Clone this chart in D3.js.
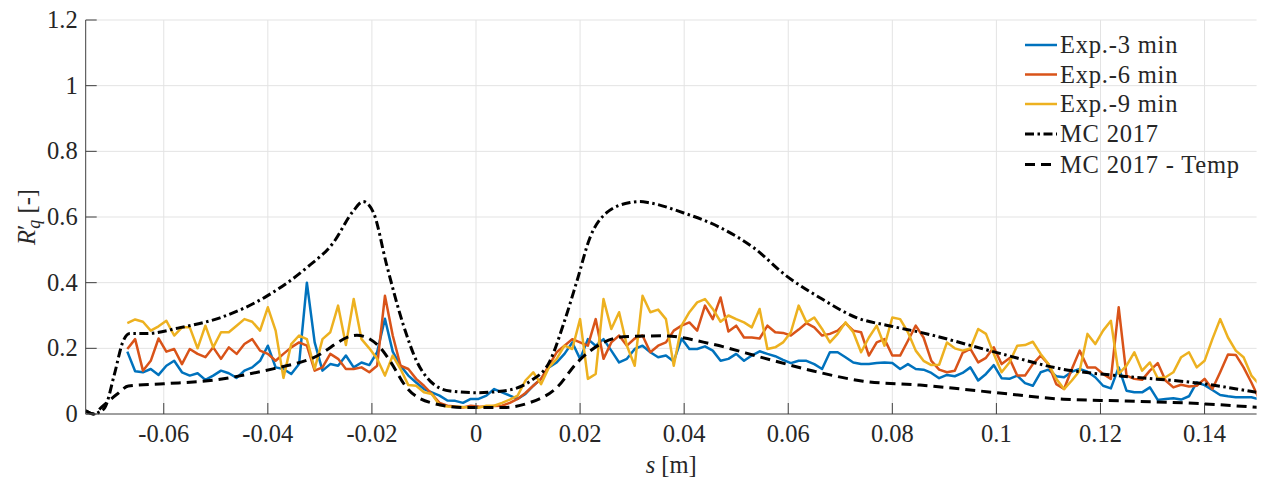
<!DOCTYPE html>
<html>
<head>
<meta charset="utf-8">
<script src="https://cdnjs.cloudflare.com/ajax/libs/d3/7.8.5/d3.min.js"></script>
<style>
    body { margin: 0; background: #fff; }
</style>
</head>
<body>
<script>
// sampling of the measured profiles: s = sStart + i * sStep
let sStart = -0.067;
let sStep = 0.0015;

let exp3 = [0.19, 0.13, 0.127, 0.137, 0.119, 0.147, 0.162, 0.127, 0.117, 0.124,
    0.104, 0.117, 0.132, 0.124, 0.11, 0.132, 0.142, 0.162, 0.208, 0.142,
    0.137, 0.122, 0.152, 0.40, 0.218, 0.132, 0.152, 0.147, 0.178, 0.142,
    0.157, 0.149, 0.188, 0.29, 0.19, 0.147, 0.117, 0.096, 0.076, 0.066,
    0.056, 0.041, 0.04, 0.034, 0.046, 0.046, 0.056, 0.076, 0.066, 0.056,
    0.046, 0.061, 0.086, 0.107, 0.142, 0.157, 0.183, 0.218, 0.168, 0.228,
    0.208, 0.228, 0.193, 0.157, 0.168, 0.198, 0.208, 0.188, 0.173, 0.178,
    0.16, 0.23, 0.198, 0.198, 0.206, 0.193, 0.162, 0.168, 0.183, 0.162,
    0.178, 0.191, 0.183, 0.176, 0.165, 0.155, 0.162, 0.162, 0.152, 0.137,
    0.188, 0.188, 0.173, 0.157, 0.152, 0.152, 0.155, 0.157, 0.155, 0.137,
    0.152, 0.137, 0.135, 0.125, 0.109, 0.119, 0.115, 0.125, 0.142, 0.102,
    0.122, 0.149, 0.109, 0.107, 0.117, 0.094, 0.086, 0.127, 0.135, 0.115,
    0.112, 0.129, 0.137, 0.129, 0.112, 0.086, 0.078, 0.142, 0.071, 0.066,
    0.066, 0.081, 0.043, 0.046, 0.048, 0.044, 0.054, 0.096, 0.088, 0.073,
    0.058, 0.054, 0.051, 0.051, 0.051, 0.045];

let exp6 = [0.198, 0.228, 0.132, 0.162, 0.23, 0.19, 0.198, 0.152, 0.198, 0.183,
    0.173, 0.203, 0.168, 0.203, 0.183, 0.213, 0.228, 0.193, 0.183, 0.162,
    0.183, 0.203, 0.218, 0.208, 0.132, 0.142, 0.183, 0.168, 0.137, 0.137,
    0.142, 0.127, 0.147, 0.36, 0.239, 0.147, 0.137, 0.107, 0.086, 0.061,
    0.034, 0.025, 0.023, 0.02, 0.025, 0.023, 0.022, 0.024, 0.025, 0.034,
    0.046, 0.064, 0.086, 0.107, 0.147, 0.188, 0.208, 0.228, 0.218, 0.208,
    0.289, 0.168, 0.218, 0.239, 0.208, 0.23, 0.239, 0.188, 0.208, 0.218,
    0.254, 0.269, 0.279, 0.254, 0.33, 0.289, 0.355, 0.251, 0.269, 0.233,
    0.233, 0.23, 0.269, 0.249, 0.247, 0.239, 0.257, 0.277, 0.264, 0.239,
    0.244, 0.254, 0.277, 0.254, 0.249, 0.178, 0.218, 0.228, 0.178, 0.178,
    0.223, 0.269, 0.233, 0.162, 0.135, 0.127, 0.132, 0.186, 0.198, 0.157,
    0.171, 0.203, 0.152, 0.17, 0.117, 0.117, 0.152, 0.178, 0.152, 0.091,
    0.076, 0.137, 0.193, 0.142, 0.142, 0.122, 0.107, 0.325, 0.117, 0.107,
    0.104, 0.132, 0.155, 0.102, 0.081, 0.089, 0.084, 0.086, 0.107, 0.076,
    0.127, 0.181, 0.18, 0.142, 0.096, 0.045];

let exp9 = [0.277, 0.288, 0.281, 0.254, 0.267, 0.284, 0.239, 0.264, 0.264, 0.2,
    0.269, 0.203, 0.249, 0.249, 0.269, 0.289, 0.281, 0.254, 0.325, 0.254,
    0.11, 0.213, 0.239, 0.228, 0.137, 0.228, 0.249, 0.33, 0.21, 0.35,
    0.228, 0.2, 0.168, 0.117, 0.178, 0.137, 0.088, 0.086, 0.066, 0.061,
    0.027, 0.023, 0.022, 0.021, 0.019, 0.019, 0.025, 0.025, 0.034, 0.044,
    0.056, 0.102, 0.127, 0.091, 0.142, 0.168, 0.208, 0.198, 0.289, 0.107,
    0.122, 0.35, 0.259, 0.31, 0.208, 0.147, 0.36, 0.31, 0.318, 0.289,
    0.147, 0.269, 0.31, 0.34, 0.35, 0.32, 0.281, 0.30, 0.289, 0.279,
    0.264, 0.32, 0.198, 0.203, 0.218, 0.249, 0.33, 0.279, 0.294, 0.259,
    0.218, 0.244, 0.279, 0.249, 0.188, 0.233, 0.269, 0.208, 0.294, 0.289,
    0.249, 0.193, 0.162, 0.149, 0.15, 0.218, 0.2, 0.193, 0.2, 0.259,
    0.244, 0.183, 0.127, 0.157, 0.208, 0.21, 0.22, 0.183, 0.152, 0.107,
    0.076, 0.102, 0.132, 0.244, 0.213, 0.254, 0.284, 0.122, 0.147, 0.188,
    0.132, 0.157, 0.109, 0.112, 0.127, 0.173, 0.188, 0.142, 0.162, 0.228,
    0.289, 0.233, 0.193, 0.173, 0.117, 0.09];

// MC 2017 (dash-dot)
let mcS = [-0.075, -0.0735, -0.0725, -0.0713, -0.0695, -0.0678, -0.0665, -0.0633, -0.0569, -0.0492,
    -0.0402, -0.0325, -0.0274, -0.0236, -0.0217, -0.0197, -0.0172, -0.014, -0.0114, -0.0088,
    -0.005, 0, 0.0052, 0.0104, 0.0142, 0.0168, 0.0194, 0.0219, 0.0251, 0.0296,
    0.0315, 0.0334, 0.0398, 0.0469, 0.0533, 0.0597, 0.0661, 0.0732, 0.0796, 0.0853,
    0.1001, 0.1129, 0.1238, 0.1398, 0.1503];
let mcR = [0.01, 0.0, 0.005, 0.02, 0.12, 0.222, 0.245, 0.245, 0.263, 0.293,
    0.359, 0.446, 0.522, 0.618, 0.647, 0.613, 0.456, 0.273, 0.161, 0.10,
    0.07, 0.065, 0.07, 0.10, 0.161, 0.273, 0.405, 0.537, 0.613, 0.644,
    0.647, 0.643, 0.613, 0.568, 0.507, 0.42, 0.354, 0.293, 0.268, 0.249,
    0.187, 0.136, 0.116, 0.092, 0.065];

// MC 2017 - Temp (dashed)
let tempS = [-0.075, -0.0735, -0.072, -0.069, -0.0668, -0.06, -0.0505, -0.0409, -0.0313, -0.0229,
    -0.0184, -0.0165, -0.0133, -0.0088, -0.0024, 0.0052, 0.0104, 0.0155, 0.0194, 0.0238,
    0.0283, 0.036, 0.0456, 0.0552, 0.0648, 0.0744, 0.0853, 0.1, 0.1129, 0.1238,
    0.1398, 0.1503];
let tempR = [0.01, 0.0, 0.02, 0.06, 0.085, 0.092, 0.103, 0.131, 0.171, 0.24,
    0.202, 0.161, 0.08, 0.035, 0.02, 0.02, 0.035, 0.08, 0.156, 0.212,
    0.235, 0.238, 0.212, 0.171, 0.131, 0.10, 0.088, 0.065, 0.045, 0.04,
    0.031, 0.02];

let xTicks = [-0.06, -0.04, -0.02, 0, 0.02, 0.04, 0.06, 0.08, 0.1, 0.12, 0.14];
let yTicks = [0, 0.2, 0.4, 0.6, 0.8, 1, 1.2];
let legendNames = ["Exp.-3 min", "Exp.-6 min", "Exp.-9 min", "MC 2017", "MC 2017 - Temp"];

function run() {
    let W = 1263, H = 487;
    let left = 85.7, right = 1256.6, top = 20, bottom = 414;
    let font = "'Liberation Serif', 'DejaVu Serif', 'Times New Roman', serif";
    let fs = 24.5;

    let svg = d3.select("body").append("svg")
        .attr("width", W)
        .attr("height", H)
        .attr("font-family", font);

    let x = d3.scaleLinear().domain([-0.075, 0.15]).range([left, right]);
    let y = d3.scaleLinear().domain([0, 1.2]).range([bottom, top]);

    // grid
    svg.append("g").selectAll("line").data(xTicks).enter().append("line")
        .attr("x1", d => x(d)).attr("x2", d => x(d))
        .attr("y1", top).attr("y2", bottom)
        .attr("stroke", "#e3e3e3").attr("stroke-width", 1);
    svg.append("g").selectAll("line").data(yTicks.slice(1)).enter().append("line")
        .attr("x1", left).attr("x2", right)
        .attr("y1", d => y(d)).attr("y2", d => y(d))
        .attr("stroke", "#e3e3e3").attr("stroke-width", 1);

    svg.append("clipPath").attr("id", "plotclip")
        .append("rect")
        .attr("x", left).attr("y", top - 2)
        .attr("width", right - left).attr("height", bottom - top + 4);

    let plot = svg.append("g").attr("clip-path", "url(#plotclip)");

    let line = d3.line()
        .x(d => x(d[0]))
        .y(d => y(d[1]));
    let smooth = d3.line()
        .x(d => x(d[0]))
        .y(d => y(d[1]))
        .curve(d3.curveMonotoneX);

    let colors = ["#0072BD", "#D95319", "#EDB120"];
    [exp3, exp6, exp9].forEach((vals, k) => {
        let pts = vals.map((v, i) => [sStart + i * sStep, v]);
        plot.append("path")
            .attr("d", line(pts))
            .attr("fill", "none")
            .attr("stroke", colors[k])
            .attr("stroke-width", 2.5)
            .attr("stroke-linejoin", "round");
    });

    plot.append("path")
        .attr("d", smooth(mcS.map((s, i) => [s, mcR[i]])))
        .attr("fill", "none")
        .attr("stroke", "#000")
        .attr("stroke-width", 3)
        .attr("stroke-dasharray", "9,3.5,2.5,3.5");

    plot.append("path")
        .attr("d", smooth(tempS.map((s, i) => [s, tempR[i]])))
        .attr("fill", "none")
        .attr("stroke", "#000")
        .attr("stroke-width", 3)
        .attr("stroke-dasharray", "10,6");

    // axes (left + bottom only, ticks pointing inward)
    let axisColor = "#404040";
    svg.append("line")
        .attr("x1", left).attr("x2", left).attr("y1", top).attr("y2", bottom)
        .attr("stroke", axisColor).attr("stroke-width", 1);
    svg.append("line")
        .attr("x1", left).attr("x2", right).attr("y1", bottom).attr("y2", bottom)
        .attr("stroke", axisColor).attr("stroke-width", 1);

    svg.append("g").selectAll("line").data(xTicks).enter().append("line")
        .attr("x1", d => x(d)).attr("x2", d => x(d))
        .attr("y1", bottom).attr("y2", bottom - 11)
        .attr("stroke", axisColor);
    svg.append("g").selectAll("line").data(yTicks).enter().append("line")
        .attr("x1", left).attr("x2", left + 11)
        .attr("y1", d => y(d)).attr("y2", d => y(d))
        .attr("stroke", axisColor);

    svg.append("g").selectAll("text").data(xTicks).enter().append("text")
        .attr("x", d => x(d))
        .attr("y", 442)
        .attr("text-anchor", "middle")
        .attr("font-size", fs)
        .attr("fill", "#262626")
        .text(d => String(d));
    svg.append("g").selectAll("text").data(yTicks).enter().append("text")
        .attr("x", left - 8)
        .attr("y", d => y(d) + 8)
        .attr("text-anchor", "end")
        .attr("font-size", fs)
        .attr("fill", "#262626")
        .text(d => String(d));

    // axis titles
    let xl = svg.append("text")
        .attr("x", (left + right) / 2)
        .attr("y", 473)
        .attr("text-anchor", "middle")
        .attr("font-size", fs)
        .attr("fill", "#262626");
    xl.append("tspan").attr("font-style", "italic").text("s");
    xl.append("tspan").text(" [m]");

    let yl = svg.append("text")
        .attr("transform", "translate(35," + ((top + bottom) / 2) + ") rotate(-90)")
        .attr("text-anchor", "middle")
        .attr("font-size", fs)
        .attr("fill", "#262626");
    yl.append("tspan").attr("font-style", "italic").text("R");
    yl.append("tspan").text("′");
    yl.append("tspan").attr("font-style", "italic").attr("font-size", 18).attr("dy", 5).attr("dx", -4).text("q");
    yl.append("tspan").attr("dy", -5).text("  [-]");

    // legend
    let legY = [45, 74.5, 104, 134, 164.5];
    let leg = svg.append("g");
    legendNames.forEach((name, k) => {
        let l = leg.append("line")
            .attr("x1", 1025).attr("x2", 1057)
            .attr("y1", legY[k]).attr("y2", legY[k])
            .attr("stroke", k < 3 ? colors[k] : "#000");
        if (k < 3) {
            l.attr("stroke-width", 2.5);
        } else if (k == 3) {
            l.attr("stroke-width", 3).attr("stroke-dasharray", "9,3.5,2.5,3.5");
        } else {
            l.attr("stroke-width", 3).attr("stroke-dasharray", "10,6");
        }
        leg.append("text")
            .attr("x", 1060)
            .attr("y", legY[k] + 8)
            .attr("font-size", fs)
            .attr("letter-spacing", 0.8)
            .attr("fill", "#262626")
            .text(name);
    });
}
window.onload = run;
</script>
</body>
</html>
